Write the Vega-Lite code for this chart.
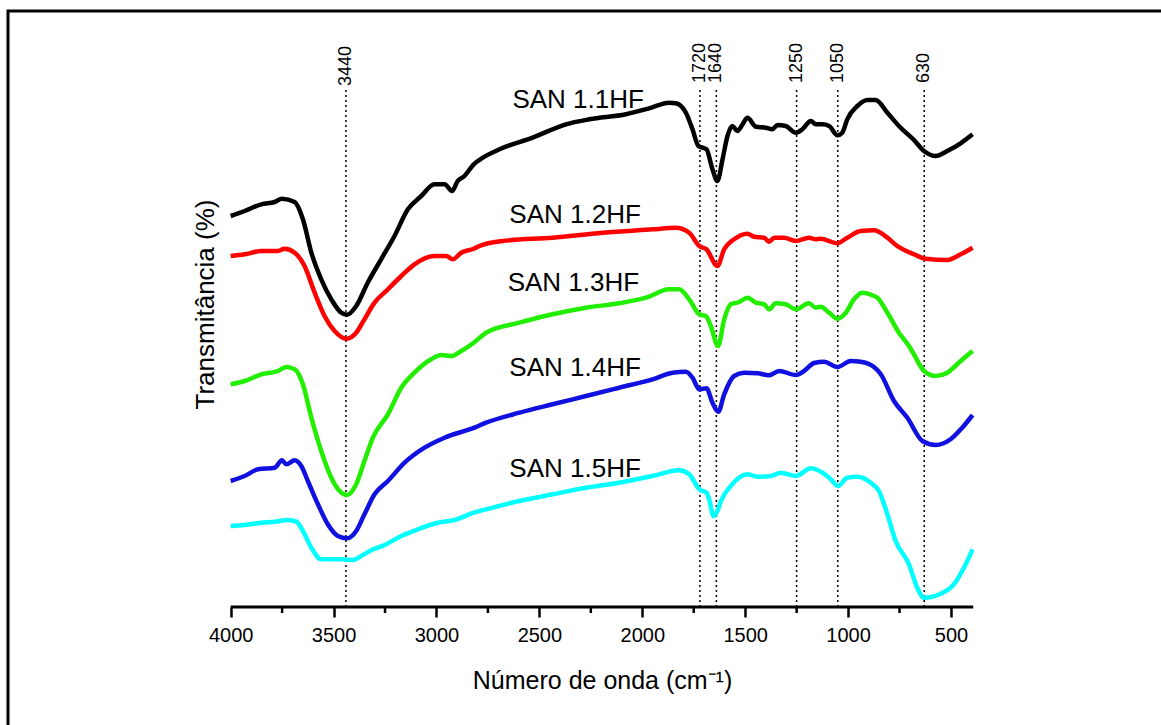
{
  "$schema": "https://vega.github.io/schema/vega-lite/v6.json",
  "width": 1180,
  "height": 740,
  "autosize": {"type": "none"},
  "padding": {"left": 8, "top": 11, "right": 0, "bottom": 0},
  "background": "white",
  "view": {"stroke": "#000", "strokeWidth": 3},
  "config": {"font": "Liberation Sans"},
  "datasets": {
    "curves": [
      {"s":"SAN 1.1HF","wn":4000,"v":391},{"s":"SAN 1.1HF","wn":3932,"v":396},{"s":"SAN 1.1HF","wn":3851,"v":402.7},{"s":"SAN 1.1HF","wn":3786,"v":405},{"s":"SAN 1.1HF","wn":3751,"v":408.3},{"s":"SAN 1.1HF","wn":3689,"v":405},{"s":"SAN 1.1HF","wn":3649,"v":387.7},{"s":"SAN 1.1HF","wn":3608,"v":354.3},{"s":"SAN 1.1HF","wn":3560,"v":327.7},{"s":"SAN 1.1HF","wn":3511,"v":307.7},{"s":"SAN 1.1HF","wn":3463,"v":294.3},{"s":"SAN 1.1HF","wn":3434,"v":292.3},{"s":"SAN 1.1HF","wn":3390,"v":301},{"s":"SAN 1.1HF","wn":3334,"v":324.3},{"s":"SAN 1.1HF","wn":3269,"v":347.7},{"s":"SAN 1.1HF","wn":3204,"v":371},{"s":"SAN 1.1HF","wn":3139,"v":397.7},{"s":"SAN 1.1HF","wn":3074,"v":411},{"s":"SAN 1.1HF","wn":3010,"v":422.7},{"s":"SAN 1.1HF","wn":2961,"v":422.7},{"s":"SAN 1.1HF","wn":2924,"v":416},{"s":"SAN 1.1HF","wn":2897,"v":426},{"s":"SAN 1.1HF","wn":2864,"v":431},{"s":"SAN 1.1HF","wn":2819,"v":442.7},{"s":"SAN 1.1HF","wn":2775,"v":449.3},{"s":"SAN 1.1HF","wn":2694,"v":457.7},{"s":"SAN 1.1HF","wn":2533,"v":469.3},{"s":"SAN 1.1HF","wn":2371,"v":482.7},{"s":"SAN 1.1HF","wn":2257,"v":487.7},{"s":"SAN 1.1HF","wn":2079,"v":492.7},{"s":"SAN 1.1HF","wn":1966,"v":498.7},{"s":"SAN 1.1HF","wn":1869,"v":504.3},{"s":"SAN 1.1HF","wn":1837,"v":503.7},{"s":"SAN 1.1HF","wn":1788,"v":494.3},{"s":"SAN 1.1HF","wn":1756,"v":477.7},{"s":"SAN 1.1HF","wn":1727,"v":461},{"s":"SAN 1.1HF","wn":1707,"v":459.3},{"s":"SAN 1.1HF","wn":1688,"v":457.7},{"s":"SAN 1.1HF","wn":1659,"v":437.7},{"s":"SAN 1.1HF","wn":1635,"v":426},{"s":"SAN 1.1HF","wn":1610,"v":447.7},{"s":"SAN 1.1HF","wn":1586,"v":471},{"s":"SAN 1.1HF","wn":1562,"v":481},{"s":"SAN 1.1HF","wn":1538,"v":476},{"s":"SAN 1.1HF","wn":1513,"v":482.7},{"s":"SAN 1.1HF","wn":1489,"v":489.3},{"s":"SAN 1.1HF","wn":1448,"v":480.3},{"s":"SAN 1.1HF","wn":1400,"v":479.3},{"s":"SAN 1.1HF","wn":1368,"v":477.7},{"s":"SAN 1.1HF","wn":1343,"v":482},{"s":"SAN 1.1HF","wn":1303,"v":481},{"s":"SAN 1.1HF","wn":1254,"v":474.3},{"s":"SAN 1.1HF","wn":1222,"v":477.7},{"s":"SAN 1.1HF","wn":1181,"v":486},{"s":"SAN 1.1HF","wn":1157,"v":482.7},{"s":"SAN 1.1HF","wn":1125,"v":482.7},{"s":"SAN 1.1HF","wn":1092,"v":481},{"s":"SAN 1.1HF","wn":1052,"v":471.7},{"s":"SAN 1.1HF","wn":1028,"v":474.3},{"s":"SAN 1.1HF","wn":1004,"v":487.7},{"s":"SAN 1.1HF","wn":955,"v":501},{"s":"SAN 1.1HF","wn":906,"v":507},{"s":"SAN 1.1HF","wn":866,"v":507},{"s":"SAN 1.1HF","wn":809,"v":494.3},{"s":"SAN 1.1HF","wn":753,"v":481},{"s":"SAN 1.1HF","wn":680,"v":467},{"s":"SAN 1.1HF","wn":631,"v":456},{"s":"SAN 1.1HF","wn":574,"v":451},{"s":"SAN 1.1HF","wn":518,"v":456},{"s":"SAN 1.1HF","wn":453,"v":463.7},{"s":"SAN 1.1HF","wn":395,"v":472.7},

      {"s":"SAN 1.2HF","wn":4000,"v":351},{"s":"SAN 1.2HF","wn":3932,"v":352.7},{"s":"SAN 1.2HF","wn":3851,"v":356},{"s":"SAN 1.2HF","wn":3770,"v":356},{"s":"SAN 1.2HF","wn":3738,"v":358.3},{"s":"SAN 1.2HF","wn":3689,"v":354.3},{"s":"SAN 1.2HF","wn":3641,"v":341},{"s":"SAN 1.2HF","wn":3592,"v":314.3},{"s":"SAN 1.2HF","wn":3544,"v":291},{"s":"SAN 1.2HF","wn":3495,"v":276},{"s":"SAN 1.2HF","wn":3438,"v":268.3},{"s":"SAN 1.2HF","wn":3390,"v":274.3},{"s":"SAN 1.2HF","wn":3350,"v":287.7},{"s":"SAN 1.2HF","wn":3301,"v":304.3},{"s":"SAN 1.2HF","wn":3236,"v":317.7},{"s":"SAN 1.2HF","wn":3171,"v":331},{"s":"SAN 1.2HF","wn":3107,"v":342.7},{"s":"SAN 1.2HF","wn":3010,"v":351},{"s":"SAN 1.2HF","wn":2953,"v":351},{"s":"SAN 1.2HF","wn":2921,"v":347.7},{"s":"SAN 1.2HF","wn":2880,"v":354.3},{"s":"SAN 1.2HF","wn":2819,"v":358.3},{"s":"SAN 1.2HF","wn":2791,"v":361},{"s":"SAN 1.2HF","wn":2678,"v":366},{"s":"SAN 1.2HF","wn":2436,"v":369.3},{"s":"SAN 1.2HF","wn":2193,"v":374.3},{"s":"SAN 1.2HF","wn":1950,"v":377.7},{"s":"SAN 1.2HF","wn":1837,"v":379.3},{"s":"SAN 1.2HF","wn":1772,"v":374.3},{"s":"SAN 1.2HF","wn":1723,"v":361},{"s":"SAN 1.2HF","wn":1688,"v":357.7},{"s":"SAN 1.2HF","wn":1635,"v":341},{"s":"SAN 1.2HF","wn":1602,"v":357.7},{"s":"SAN 1.2HF","wn":1554,"v":367.7},{"s":"SAN 1.2HF","wn":1489,"v":373.3},{"s":"SAN 1.2HF","wn":1457,"v":370.3},{"s":"SAN 1.2HF","wn":1408,"v":369.3},{"s":"SAN 1.2HF","wn":1384,"v":365.3},{"s":"SAN 1.2HF","wn":1359,"v":369.3},{"s":"SAN 1.2HF","wn":1311,"v":369.3},{"s":"SAN 1.2HF","wn":1254,"v":366},{"s":"SAN 1.2HF","wn":1190,"v":369.3},{"s":"SAN 1.2HF","wn":1157,"v":367.7},{"s":"SAN 1.2HF","wn":1133,"v":368.3},{"s":"SAN 1.2HF","wn":1052,"v":363.7},{"s":"SAN 1.2HF","wn":1004,"v":369.3},{"s":"SAN 1.2HF","wn":939,"v":376},{"s":"SAN 1.2HF","wn":874,"v":376.7},{"s":"SAN 1.2HF","wn":809,"v":369.3},{"s":"SAN 1.2HF","wn":761,"v":361},{"s":"SAN 1.2HF","wn":680,"v":352.7},{"s":"SAN 1.2HF","wn":623,"v":348.3},{"s":"SAN 1.2HF","wn":518,"v":347},{"s":"SAN 1.2HF","wn":453,"v":352.7},{"s":"SAN 1.2HF","wn":395,"v":359.3},

      {"s":"SAN 1.3HF","wn":4000,"v":222.7},{"s":"SAN 1.3HF","wn":3932,"v":226},{"s":"SAN 1.3HF","wn":3851,"v":232.7},{"s":"SAN 1.3HF","wn":3770,"v":236},{"s":"SAN 1.3HF","wn":3730,"v":240},{"s":"SAN 1.3HF","wn":3689,"v":237.7},{"s":"SAN 1.3HF","wn":3649,"v":222.7},{"s":"SAN 1.3HF","wn":3608,"v":189.3},{"s":"SAN 1.3HF","wn":3560,"v":156},{"s":"SAN 1.3HF","wn":3511,"v":129.3},{"s":"SAN 1.3HF","wn":3471,"v":116},{"s":"SAN 1.3HF","wn":3434,"v":112},{"s":"SAN 1.3HF","wn":3390,"v":122.7},{"s":"SAN 1.3HF","wn":3350,"v":146},{"s":"SAN 1.3HF","wn":3309,"v":169.3},{"s":"SAN 1.3HF","wn":3236,"v":192.7},{"s":"SAN 1.3HF","wn":3171,"v":219.3},{"s":"SAN 1.3HF","wn":3107,"v":234.3},{"s":"SAN 1.3HF","wn":3026,"v":247.7},{"s":"SAN 1.3HF","wn":2977,"v":252},{"s":"SAN 1.3HF","wn":2929,"v":251},{"s":"SAN 1.3HF","wn":2880,"v":256},{"s":"SAN 1.3HF","wn":2819,"v":264.3},{"s":"SAN 1.3HF","wn":2759,"v":274.3},{"s":"SAN 1.3HF","wn":2597,"v":284.3},{"s":"SAN 1.3HF","wn":2436,"v":292.7},{"s":"SAN 1.3HF","wn":2273,"v":299.3},{"s":"SAN 1.3HF","wn":2112,"v":303.7},{"s":"SAN 1.3HF","wn":1982,"v":309.3},{"s":"SAN 1.3HF","wn":1869,"v":317.7},{"s":"SAN 1.3HF","wn":1821,"v":317.7},{"s":"SAN 1.3HF","wn":1772,"v":307.7},{"s":"SAN 1.3HF","wn":1723,"v":292.7},{"s":"SAN 1.3HF","wn":1691,"v":291},{"s":"SAN 1.3HF","wn":1667,"v":281},{"s":"SAN 1.3HF","wn":1632,"v":261},{"s":"SAN 1.3HF","wn":1602,"v":287.7},{"s":"SAN 1.3HF","wn":1570,"v":302.7},{"s":"SAN 1.3HF","wn":1529,"v":305},{"s":"SAN 1.3HF","wn":1489,"v":309.3},{"s":"SAN 1.3HF","wn":1448,"v":304.3},{"s":"SAN 1.3HF","wn":1408,"v":302.7},{"s":"SAN 1.3HF","wn":1384,"v":297.7},{"s":"SAN 1.3HF","wn":1351,"v":303.7},{"s":"SAN 1.3HF","wn":1303,"v":302.7},{"s":"SAN 1.3HF","wn":1254,"v":297.7},{"s":"SAN 1.3HF","wn":1190,"v":303.7},{"s":"SAN 1.3HF","wn":1157,"v":299.3},{"s":"SAN 1.3HF","wn":1133,"v":300.3},{"s":"SAN 1.3HF","wn":1092,"v":294.3},{"s":"SAN 1.3HF","wn":1052,"v":288.3},{"s":"SAN 1.3HF","wn":1011,"v":294.3},{"s":"SAN 1.3HF","wn":971,"v":307.7},{"s":"SAN 1.3HF","wn":931,"v":314.3},{"s":"SAN 1.3HF","wn":882,"v":311.7},{"s":"SAN 1.3HF","wn":858,"v":309.3},{"s":"SAN 1.3HF","wn":809,"v":294.3},{"s":"SAN 1.3HF","wn":753,"v":274.3},{"s":"SAN 1.3HF","wn":704,"v":261},{"s":"SAN 1.3HF","wn":680,"v":252.7},{"s":"SAN 1.3HF","wn":631,"v":236},{"s":"SAN 1.3HF","wn":574,"v":231},{"s":"SAN 1.3HF","wn":518,"v":234.3},{"s":"SAN 1.3HF","wn":453,"v":246},{"s":"SAN 1.3HF","wn":395,"v":256},

      {"s":"SAN 1.4HF","wn":4000,"v":126},{"s":"SAN 1.4HF","wn":3932,"v":131},{"s":"SAN 1.4HF","wn":3867,"v":137.7},{"s":"SAN 1.4HF","wn":3786,"v":139.3},{"s":"SAN 1.4HF","wn":3751,"v":146.7},{"s":"SAN 1.4HF","wn":3730,"v":142.7},{"s":"SAN 1.4HF","wn":3689,"v":146.7},{"s":"SAN 1.4HF","wn":3657,"v":141},{"s":"SAN 1.4HF","wn":3625,"v":126},{"s":"SAN 1.4HF","wn":3576,"v":102.7},{"s":"SAN 1.4HF","wn":3528,"v":82.7},{"s":"SAN 1.4HF","wn":3479,"v":71},{"s":"SAN 1.4HF","wn":3434,"v":68.7},{"s":"SAN 1.4HF","wn":3390,"v":76},{"s":"SAN 1.4HF","wn":3350,"v":92.7},{"s":"SAN 1.4HF","wn":3301,"v":112.7},{"s":"SAN 1.4HF","wn":3236,"v":126},{"s":"SAN 1.4HF","wn":3155,"v":144.3},{"s":"SAN 1.4HF","wn":3058,"v":159.3},{"s":"SAN 1.4HF","wn":2961,"v":169.3},{"s":"SAN 1.4HF","wn":2816,"v":179.3},{"s":"SAN 1.4HF","wn":2759,"v":184.3},{"s":"SAN 1.4HF","wn":2597,"v":194.3},{"s":"SAN 1.4HF","wn":2436,"v":202.7},{"s":"SAN 1.4HF","wn":2273,"v":211},{"s":"SAN 1.4HF","wn":2112,"v":219.3},{"s":"SAN 1.4HF","wn":1950,"v":227.7},{"s":"SAN 1.4HF","wn":1853,"v":234.3},{"s":"SAN 1.4HF","wn":1788,"v":235.3},{"s":"SAN 1.4HF","wn":1756,"v":229.3},{"s":"SAN 1.4HF","wn":1723,"v":217.7},{"s":"SAN 1.4HF","wn":1688,"v":218.7},{"s":"SAN 1.4HF","wn":1659,"v":204.3},{"s":"SAN 1.4HF","wn":1631,"v":195.3},{"s":"SAN 1.4HF","wn":1602,"v":212.7},{"s":"SAN 1.4HF","wn":1554,"v":231},{"s":"SAN 1.4HF","wn":1505,"v":234.3},{"s":"SAN 1.4HF","wn":1440,"v":233.7},{"s":"SAN 1.4HF","wn":1384,"v":231.7},{"s":"SAN 1.4HF","wn":1335,"v":236},{"s":"SAN 1.4HF","wn":1254,"v":232},{"s":"SAN 1.4HF","wn":1214,"v":236},{"s":"SAN 1.4HF","wn":1165,"v":244},{"s":"SAN 1.4HF","wn":1117,"v":245.3},{"s":"SAN 1.4HF","wn":1052,"v":240},{"s":"SAN 1.4HF","wn":987,"v":246},{"s":"SAN 1.4HF","wn":939,"v":245.3},{"s":"SAN 1.4HF","wn":874,"v":240},{"s":"SAN 1.4HF","wn":841,"v":232.7},{"s":"SAN 1.4HF","wn":777,"v":206},{"s":"SAN 1.4HF","wn":712,"v":189.3},{"s":"SAN 1.4HF","wn":639,"v":166},{"s":"SAN 1.4HF","wn":574,"v":162},{"s":"SAN 1.4HF","wn":502,"v":167.7},{"s":"SAN 1.4HF","wn":445,"v":179.3},{"s":"SAN 1.4HF","wn":395,"v":192},

      {"s":"SAN 1.5HF","wn":4000,"v":81},{"s":"SAN 1.5HF","wn":3932,"v":82},{"s":"SAN 1.5HF","wn":3851,"v":84.3},{"s":"SAN 1.5HF","wn":3786,"v":85.3},{"s":"SAN 1.5HF","wn":3722,"v":87},{"s":"SAN 1.5HF","wn":3681,"v":85.3},{"s":"SAN 1.5HF","wn":3649,"v":76},{"s":"SAN 1.5HF","wn":3608,"v":59.3},{"s":"SAN 1.5HF","wn":3560,"v":47.7},{"s":"SAN 1.5HF","wn":3511,"v":47.7},{"s":"SAN 1.5HF","wn":3463,"v":47.7},{"s":"SAN 1.5HF","wn":3406,"v":47},{"s":"SAN 1.5HF","wn":3366,"v":51},{"s":"SAN 1.5HF","wn":3317,"v":56.7},{"s":"SAN 1.5HF","wn":3252,"v":62},{"s":"SAN 1.5HF","wn":3171,"v":71},{"s":"SAN 1.5HF","wn":3091,"v":77.7},{"s":"SAN 1.5HF","wn":2994,"v":84.3},{"s":"SAN 1.5HF","wn":2913,"v":87},{"s":"SAN 1.5HF","wn":2819,"v":94.3},{"s":"SAN 1.5HF","wn":2759,"v":97.7},{"s":"SAN 1.5HF","wn":2597,"v":106},{"s":"SAN 1.5HF","wn":2436,"v":112.7},{"s":"SAN 1.5HF","wn":2273,"v":119.3},{"s":"SAN 1.5HF","wn":2112,"v":124.3},{"s":"SAN 1.5HF","wn":1950,"v":131},{"s":"SAN 1.5HF","wn":1821,"v":136.7},{"s":"SAN 1.5HF","wn":1772,"v":132.7},{"s":"SAN 1.5HF","wn":1723,"v":117.7},{"s":"SAN 1.5HF","wn":1688,"v":114.3},{"s":"SAN 1.5HF","wn":1675,"v":107.7},{"s":"SAN 1.5HF","wn":1654,"v":91},{"s":"SAN 1.5HF","wn":1635,"v":96},{"s":"SAN 1.5HF","wn":1618,"v":106},{"s":"SAN 1.5HF","wn":1570,"v":121},{"s":"SAN 1.5HF","wn":1489,"v":132.7},{"s":"SAN 1.5HF","wn":1440,"v":130.3},{"s":"SAN 1.5HF","wn":1375,"v":131},{"s":"SAN 1.5HF","wn":1327,"v":134.3},{"s":"SAN 1.5HF","wn":1254,"v":131},{"s":"SAN 1.5HF","wn":1181,"v":138.7},{"s":"SAN 1.5HF","wn":1125,"v":134.3},{"s":"SAN 1.5HF","wn":1084,"v":127.7},{"s":"SAN 1.5HF","wn":1049,"v":121},{"s":"SAN 1.5HF","wn":1004,"v":129.3},{"s":"SAN 1.5HF","wn":955,"v":130.3},{"s":"SAN 1.5HF","wn":890,"v":124.3},{"s":"SAN 1.5HF","wn":850,"v":116},{"s":"SAN 1.5HF","wn":809,"v":92.7},{"s":"SAN 1.5HF","wn":769,"v":66},{"s":"SAN 1.5HF","wn":704,"v":42.7},{"s":"SAN 1.5HF","wn":664,"v":19.3},{"s":"SAN 1.5HF","wn":631,"v":9.3},{"s":"SAN 1.5HF","wn":550,"v":13.3},{"s":"SAN 1.5HF","wn":486,"v":22.7},{"s":"SAN 1.5HF","wn":437,"v":39.3},{"s":"SAN 1.5HF","wn":395,"v":57.7}
    ],
    "peaks": [
      {"wn":3440,"v":0,"v2":517},{"wn":1720,"v":0,"v2":520},{"wn":1640,"v":0,"v2":520},{"wn":1250,"v":0,"v2":520},{"wn":1050,"v":0,"v2":520},{"wn":630,"v":0,"v2":520}
    ],
    "peaklabels": [
      {"wn":3440,"v":521,"lab":"3440"},{"wn":1720,"v":524,"lab":"1720"},{"wn":1640,"v":524,"lab":"1640"},{"wn":1250,"v":524,"lab":"1250"},{"wn":1050,"v":524,"lab":"1050"},{"wn":630,"v":524,"lab":"630"}
    ],
    "minor": [
      {"wn":3750,"v":0,"v2":-6},{"wn":3250,"v":0,"v2":-6},{"wn":2750,"v":0,"v2":-6},{"wn":2250,"v":0,"v2":-6},{"wn":1750,"v":0,"v2":-6},{"wn":1250,"v":0,"v2":-6},{"wn":750,"v":0,"v2":-6}
    ],
    "base": [
      {"wn":4000,"wn2":392,"v":0}
    ],
    "labels": [
      {"wn":2631,"v":499,"lab":"SAN 1.1HF"},
      {"wn":2646,"v":384,"lab":"SAN 1.2HF"},
      {"wn":2654,"v":316,"lab":"SAN 1.3HF"},
      {"wn":2646,"v":231,"lab":"SAN 1.4HF"},
      {"wn":2646,"v":130,"lab":"SAN 1.5HF"}
    ]
  },
  "encoding": {
    "x": {
      "field": "wn", "type": "quantitative",
      "title": "Número de onda (cm⁻¹)",
      "scale": {"domain": [-651.7, 5082], "reverse": true, "nice": false, "zero": false},
      "axis": {
        "values": [4000, 3500, 3000, 2500, 2000, 1500, 1000, 500],
        "format": "d",
        "domain": false, "grid": false,
        "ticks": true, "tickSize": 10, "tickWidth": 2.5, "tickColor": "#000",
        "labelFont": "Liberation Sans", "labelFontSize": 20, "labelColor": "#000",
        "labelPadding": 8, "labelFlush": false, "labelOverlap": false,
        "offset": -144,
        "titleFont": "Liberation Sans", "titleFontSize": 25, "titleFontWeight": "normal", "titleColor": "#000",
        "titleX": 594, "titleY": 81, "titleBaseline": "alphabetic", "titleAlign": "center"
      }
    },
    "y": {
      "field": "v", "type": "quantitative",
      "title": "Transmitância (%)",
      "scale": {"domain": [-144, 596], "nice": false, "zero": false},
      "axis": {
        "domain": false, "grid": false, "ticks": false, "labels": false,
        "titleFont": "Liberation Sans", "titleFontSize": 26, "titleFontWeight": "normal", "titleColor": "#000",
        "titleX": 197, "titleY": 293, "titleAngle": 270, "titleBaseline": "middle", "titleAlign": "center"
      }
    }
  },
  "layer": [
    {
      "data": {"name": "peaks"},
      "mark": {"type": "rule", "color": "#000", "strokeWidth": 1.5, "strokeDash": [2, 3]},
      "encoding": {"y2": {"field": "v2"}}
    },
    {
      "data": {"name": "base"},
      "mark": {"type": "rule", "color": "#000", "strokeWidth": 3},
      "encoding": {"x2": {"field": "wn2"}}
    },
    {
      "data": {"name": "minor"},
      "mark": {"type": "rule", "color": "#000", "strokeWidth": 2.5},
      "encoding": {"y2": {"field": "v2"}}
    },
    {
      "data": {"name": "curves"},
      "mark": {"type": "line", "strokeWidth": 4.5, "interpolate": "monotone"},
      "encoding": {
        "color": {
          "field": "s", "type": "nominal", "legend": null,
          "scale": {"domain": ["SAN 1.1HF", "SAN 1.2HF", "SAN 1.3HF", "SAN 1.4HF", "SAN 1.5HF"],
                    "range": ["#000000", "#ff0000", "#22ee00", "#1010e0", "#00ffff"]}
        }
      }
    },
    {
      "data": {"name": "peaklabels"},
      "mark": {"type": "text", "angle": 270, "align": "left", "baseline": "middle", "fontSize": 18, "font": "Liberation Sans", "color": "#000"},
      "encoding": {"text": {"field": "lab"}}
    },
    {
      "data": {"name": "labels"},
      "mark": {"type": "text", "align": "left", "baseline": "alphabetic", "fontSize": 26, "font": "Liberation Sans", "color": "#000"},
      "encoding": {"text": {"field": "lab"}}
    }
  ]
}
